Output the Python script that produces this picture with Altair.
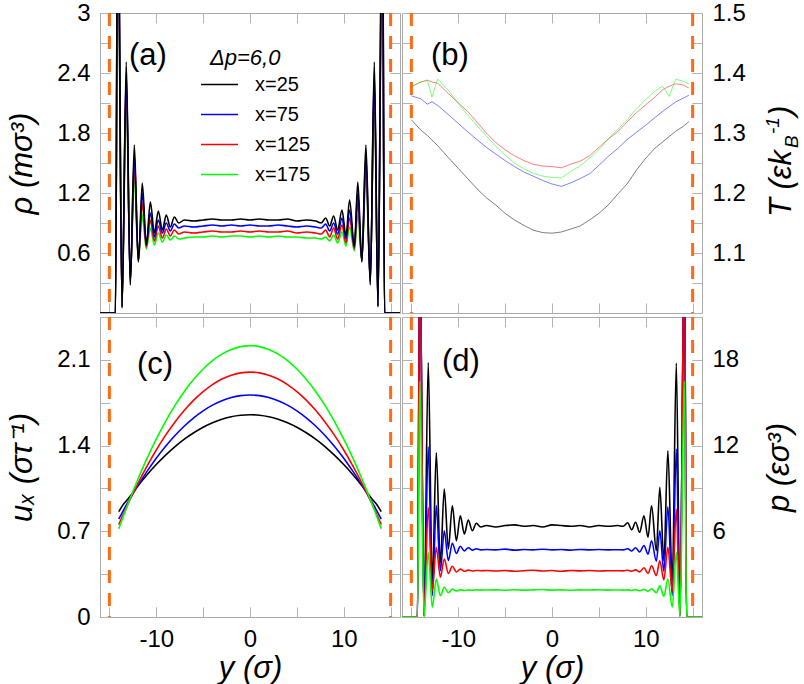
import altair as alt
import pandas as pd

FONT = "Liberation Sans"

SERIES = ["x=25", "x=75", "x=125", "x=175"]
COLORS = ["#000000", "#0000ff", "#ff0000", "#00ff00"]
WALLS = [-15.0, 15.0]

# channel coordinate y (sigma) where the layered density / pressure profiles are sampled
Y_LAYER = [-16.0, -14.35, -14.1, -13.65, -13.2, -12.77, -12.34, -11.91, -11.49, -11.06, -10.63, -10.2,
           -9.78, -9.35, -8.93, -8.5, -8.07, -7.6,
           -7.0, -6.0, -5.0, -4.0, -3.0, -2.0, -1.0, 0.0, 1.0, 2.0, 3.0, 4.0, 5.0, 6.0, 7.0,
           7.6, 8.07, 8.5, 8.92, 9.35, 9.81, 10.24, 10.62, 11.13, 11.5, 11.93, 12.36, 12.83, 13.26,
           13.65, 14.12, 14.35, 16.0]

# (a) density
RHO_25 = [0, 0, 4.6, 0.05, 2.51, 0.28, 1.68, 0.51, 1.30, 0.68, 1.11, 0.80, 1.02, 0.83, 0.98, 0.86, 0.96, 0.90,
          0.93, 0.92, 0.93, 0.94, 0.93, 0.93, 0.94, 0.93, 0.94, 0.93, 0.93, 0.94, 0.92, 0.93, 0.92,
          0.90, 0.95, 0.87, 0.97, 0.83, 1.03, 0.77, 1.13, 0.67, 1.31, 0.51, 1.68, 0.28, 2.51, 0.06, 4.6, 0, 0]
RHO_75 = [0, 0, 4.4, 0.06, 2.40, 0.30, 1.58, 0.52, 1.20, 0.68, 1.00, 0.76, 0.93, 0.80, 0.90, 0.82, 0.89, 0.85,
          0.87, 0.86, 0.87, 0.88, 0.87, 0.88, 0.87, 0.88, 0.87, 0.87, 0.88, 0.87, 0.86, 0.87, 0.86,
          0.85, 0.89, 0.82, 0.90, 0.79, 0.95, 0.74, 1.03, 0.66, 1.20, 0.52, 1.58, 0.30, 2.40, 0.07, 4.4, 0, 0]
RHO_125 = [0, 0, 4.2, 0.07, 2.30, 0.32, 1.47, 0.52, 1.10, 0.66, 0.93, 0.72, 0.87, 0.75, 0.84, 0.77, 0.83, 0.79,
           0.81, 0.80, 0.81, 0.82, 0.81, 0.81, 0.82, 0.81, 0.82, 0.81, 0.81, 0.82, 0.80, 0.81, 0.80,
           0.79, 0.83, 0.76, 0.85, 0.74, 0.88, 0.70, 0.95, 0.64, 1.10, 0.52, 1.47, 0.32, 2.30, 0.08, 4.2, 0, 0]
RHO_175 = [0, 0, 4.0, 0.08, 2.20, 0.34, 1.36, 0.52, 0.98, 0.64, 0.85, 0.68, 0.80, 0.71, 0.78, 0.73, 0.77, 0.74,
           0.75, 0.76, 0.76, 0.77, 0.76, 0.77, 0.77, 0.76, 0.77, 0.76, 0.77, 0.76, 0.76, 0.75, 0.75,
           0.74, 0.76, 0.72, 0.78, 0.70, 0.81, 0.67, 0.86, 0.62, 0.98, 0.52, 1.36, 0.34, 2.20, 0.09, 4.0, 0, 0]

# (d) pressure
P_25 = [0, 0, 26, 0.1, 17.8, 2.5, 11.5, 3.8, 8.96, 4.76, 7.79, 5.34, 7.09, 5.81, 6.79, 6.04, 6.56, 6.30,
        6.40, 6.30, 6.40, 6.45, 6.35, 6.40, 6.30, 6.45, 6.40, 6.35, 6.40, 6.30, 6.40, 6.35, 6.40,
        6.35, 6.60, 6.10, 6.63, 5.93, 7.09, 5.58, 7.79, 4.64, 9.08, 3.94, 11.64, 2.54, 17.76, 0.2, 26, 0, 0]
P_75 = [0, 0, 26, 0.1, 11.9, 1.5, 7.8, 3.24, 6.04, 3.94, 5.16, 4.45, 4.95, 4.62, 4.85, 4.68, 4.78, 4.70,
        4.72, 4.70, 4.75, 4.68, 4.72, 4.70, 4.74, 4.70, 4.72, 4.68, 4.73, 4.70, 4.72, 4.70, 4.71,
        4.70, 4.78, 4.62, 4.85, 4.55, 5.00, 4.40, 5.34, 3.90, 6.04, 3.20, 7.72, 1.50, 11.76, 0.1, 26, 0, 0]
P_125 = [0, 0, 26, 0.05, 7.68, 1.84, 4.88, 2.78, 4.06, 3.05, 3.55, 3.15, 3.35, 3.20, 3.28, 3.22, 3.26, 3.24,
         3.25, 3.22, 3.26, 3.20, 3.24, 3.27, 3.22, 3.25, 3.20, 3.26, 3.23, 3.25, 3.22, 3.24, 3.24,
         3.23, 3.27, 3.20, 3.30, 3.15, 3.45, 3.05, 3.59, 2.90, 3.94, 2.60, 4.88, 1.80, 7.56, 0.05, 26, 0, 0]
P_175 = [0, 0, 16.5, 0.0, 4.53, 0.68, 2.66, 1.49, 2.08, 1.70, 1.95, 1.82, 1.90, 1.86, 1.89, 1.87, 1.90, 1.88,
         1.89, 1.90, 1.87, 1.91, 1.88, 1.90, 1.92, 1.88, 1.90, 1.87, 1.90, 1.89, 1.91, 1.88, 1.89,
         1.88, 1.90, 1.86, 1.92, 1.84, 1.93, 1.80, 1.98, 1.70, 2.19, 1.45, 2.66, 0.68, 4.53, 0.0, 16.5, 0, 0]

# (c) streaming velocity
Y_VEL = [-14.0, -13.5, -13.0, -12.0, -11.0, -10.0, -9.0, -8.0, -7.0, -6.0, -5.0, -4.0, -3.0, -2.0, -1.0, 0.0,
         1.0, 2.0, 3.0, 4.0, 5.0, 6.0, 7.0, 8.0, 9.0, 10.0, 11.0, 12.0, 13.0, 13.5, 14.0]
U_25 = [0.86, 0.92, 0.965, 1.066, 1.16, 1.245, 1.322, 1.392, 1.453, 1.505, 1.55, 1.587, 1.615, 1.636, 1.648, 1.652,
        1.648, 1.636, 1.615, 1.587, 1.55, 1.505, 1.453, 1.392, 1.322, 1.245, 1.16, 1.066, 0.965, 0.92, 0.86]
U_75 = [0.80, 0.871, 0.939, 1.069, 1.187, 1.296, 1.394, 1.482, 1.56, 1.627, 1.684, 1.73, 1.766, 1.792, 1.808, 1.813,
        1.808, 1.792, 1.766, 1.73, 1.684, 1.627, 1.56, 1.482, 1.394, 1.296, 1.187, 1.069, 0.939, 0.871, 0.80]
U_125 = [0.754, 0.841, 0.925, 1.084, 1.23, 1.364, 1.485, 1.593, 1.688, 1.771, 1.841, 1.898, 1.943, 1.975, 1.994, 2.0,
         1.994, 1.975, 1.943, 1.898, 1.841, 1.771, 1.688, 1.593, 1.485, 1.364, 1.23, 1.084, 0.925, 0.841, 0.754]
U_175 = [0.72, 0.825, 0.927, 1.117, 1.293, 1.453, 1.598, 1.728, 1.842, 1.941, 2.025, 2.094, 2.147, 2.185, 2.208, 2.216,
         2.208, 2.185, 2.147, 2.094, 2.025, 1.941, 1.842, 1.728, 1.598, 1.453, 1.293, 1.117, 0.927, 0.825, 0.72]

# (b) temperature
Y_TEMP = [-15.0, -14.0, -13.3, -12.8, -12.2, -11.0, -10.0, -9.0, -8.0, -7.0, -6.0, -5.0, -4.0, -3.0, -2.0, -1.0,
          0.0, 1.0, 2.0, 3.0, 4.0, 5.0, 6.0, 7.0, 8.0, 9.0, 10.0, 11.0, 11.8, 12.5, 13.2, 14.0, 14.6]
T_25 = [1.322, 1.305, 1.296, 1.288, 1.279, 1.258, 1.241, 1.224, 1.207, 1.192, 1.180, 1.166, 1.155, 1.146, 1.138,
        1.134, 1.133, 1.135, 1.140, 1.145, 1.155, 1.166, 1.180, 1.198, 1.215, 1.238, 1.258, 1.275, 1.285, 1.294,
        1.303, 1.311, 1.319]
T_75 = [1.362, 1.357, 1.348, 1.352, 1.346, 1.330, 1.316, 1.302, 1.289, 1.276, 1.265, 1.254, 1.244, 1.235, 1.228,
        1.221, 1.215, 1.211, 1.217, 1.224, 1.232, 1.246, 1.261, 1.274, 1.289, 1.301, 1.313, 1.326, 1.336, 1.344,
        1.352, 1.358, 1.363]
T_125 = [1.377, 1.385, 1.388, 1.385, 1.383, 1.365, 1.350, 1.336, 1.318, 1.300, 1.284, 1.272, 1.262, 1.254, 1.248,
         1.245, 1.244, 1.242, 1.248, 1.253, 1.262, 1.276, 1.290, 1.302, 1.318, 1.334, 1.347, 1.360, 1.372, 1.378,
         1.382, 1.380, 1.375]
T_175 = [1.377, 1.385, 1.388, 1.360, 1.390, 1.370, 1.350, 1.330, 1.312, 1.295, 1.278, 1.263, 1.250, 1.240, 1.233,
         1.228, 1.226, 1.225, 1.236, 1.245, 1.258, 1.272, 1.290, 1.306, 1.322, 1.340, 1.356, 1.370, 1.378, 1.361,
         1.390, 1.386, 1.382]

X_TICKS = [-15, -10, -5, 0, 5, 10, 15]
X_LABELS = [-10, 0, 10]
RHO_TICKS = [0, 0.3, 0.6, 0.9, 1.2, 1.5, 1.8, 2.1, 2.4, 2.7, 3.0]
RHO_LABELS = [0.6, 1.2, 1.8, 2.4, 3.0]
T_TICKS = [1.0, 1.05, 1.1, 1.15, 1.2, 1.25, 1.3, 1.35, 1.4, 1.45, 1.5]
T_LABELS = [1.1, 1.2, 1.3, 1.4, 1.5]
U_TICKS = [0, 0.35, 0.7, 1.05, 1.4, 1.75, 2.1, 2.45]
U_LABELS = [0, 0.7, 1.4, 2.1]
P_TICKS = [0, 3, 6, 9, 12, 15, 18, 21]
P_LABELS = [6, 12, 18]

W = H = 300
TICK = 10
TICK_COLOR = "#b4b4b4"
LABEL_SIZE = 24
TITLE_SIZE = 31
ORANGE = "#ff6a13"


def frame(ys, cols):
    rows = []
    for name, vals in zip(SERIES, cols):
        for y, v in zip(ys, vals):
            rows.append({"y": y, "v": v, "s": name})
    return pd.DataFrame(rows)


def tick_axis(orient, values):
    return alt.Axis(orient=orient, values=values, labels=False, title=None, domain=False,
                    grid=False, tickSize=TICK, offset=-TICK, tickColor=TICK_COLOR, tickWidth=1)


def label_axis(orient, values, title=None, title_pad=10, extent=None):
    kw = dict(orient=orient, values=values, labelExpr="toString(datum.value)", domain=False,
              grid=False, tickSize=TICK, offset=-TICK, tickColor=TICK_COLOR, tickWidth=1,
              labelFont=FONT, labelFontSize=LABEL_SIZE, labelColor="#000000", labelPadding=10,
              labelOverlap=False, labelFlush=False)
    if title is not None:
        kw.update(title=title, titleFont=FONT, titleFontSize=TITLE_SIZE, titleFontStyle="italic",
                  titleFontWeight="normal", titleColor="#000000", titlePadding=title_pad)
        if orient in ("left", "right"):
            kw.update(titleAngle=270)
            if orient == "right":
                kw.update(titleBaseline="top")
    else:
        kw.update(title=None)
    if extent is not None:
        kw.update(minExtent=extent, maxExtent=extent)
    return alt.Axis(**kw)


def panel(df, ydom, yticks, ylabels, yside, show_x, ytitle, tag, tag_xy, width=1.6,
          opacity=1.0, interp="monotone", legend=None, draw_order=SERIES, extra=None):
    xs = alt.Scale(domain=[-16, 16], nice=False, zero=False)
    ys = alt.Scale(domain=ydom, nice=False, zero=False)
    cs = alt.Scale(domain=SERIES, range=COLORS)
    other = "right" if yside == "left" else "left"
    if show_x:
        x_axis = label_axis("bottom", X_LABELS, title="y (σ)", title_pad=2)
    else:
        x_axis = None
    y_axis = label_axis(yside, ylabels, title=ytitle, title_pad=14, extent=58)

    walls = alt.Chart(pd.DataFrame({"w": WALLS})).mark_rule(
        color=ORANGE, strokeWidth=3, strokeDash=[13, 10]
    ).encode(x=alt.X("w:Q", scale=xs, axis=None))

    # invisible copies of the profiles carrying the tick-only axes on all four sides
    ghost_far = alt.Chart(df).mark_line(opacity=0, clip=True).encode(
        x=alt.X("y:Q", scale=xs, axis=tick_axis("top", X_TICKS)),
        y=alt.Y("v:Q", scale=ys, axis=tick_axis(other, yticks)),
        detail="s:N",
    )
    ghost_near = alt.Chart(df).mark_line(opacity=0, clip=True).encode(
        x=alt.X("y:Q", scale=xs, axis=tick_axis("bottom", X_TICKS)),
        y=alt.Y("v:Q", scale=ys, axis=tick_axis(yside, yticks)),
        detail="s:N",
    )

    layers = [walls, ghost_far, ghost_near]
    for i, name in enumerate(draw_order):
        first = i == 0
        layers.append(
            alt.Chart(df[df["s"] == name]).mark_line(
                interpolate=interp, clip=True, strokeWidth=width, opacity=opacity
            ).encode(
                x=alt.X("y:Q", scale=xs, axis=x_axis if first else None),
                y=alt.Y("v:Q", scale=ys, axis=y_axis if first else None),
                color=alt.Color("s:N", scale=cs, legend=legend if first else None),
                order=alt.Order("y:Q"),
            )
        )

    tag_layer = alt.Chart(pd.DataFrame({"t": [tag]})).mark_text(
        font=FONT, fontSize=31, align="left", baseline="middle", color="#000000"
    ).encode(x=alt.value(tag_xy[0]), y=alt.value(tag_xy[1]), text="t:N")
    layers.append(tag_layer)
    if extra:
        layers += extra
    return alt.layer(*layers).resolve_scale(x="independent", y="independent").properties(
        width=W, height=H)


def text_piece(txt, x, y, size, italic=True, angle=0):
    kw = dict(font=FONT, fontSize=size, align="left", baseline="middle", color="#000000")
    if italic:
        kw["fontStyle"] = "italic"
    if angle:
        kw["angle"] = angle
    return alt.Chart(pd.DataFrame({"t": [txt]})).mark_text(**kw).encode(
        x=alt.value(x), y=alt.value(y), text="t:N")


legend = alt.Legend(orient="none", legendX=100, legendY=52, title=None, symbolType="stroke",
                    symbolSize=1369, symbolStrokeWidth=1.5, labelFont=FONT, labelFontSize=20,
                    labelColor="#000000", rowPadding=-10, labelOffset=16, padding=0,
                    values=SERIES)

legend_title = text_piece("Δp=6,0", 110, 45, 22)

panel_a = panel(frame(Y_LAYER, [RHO_25, RHO_75, RHO_125, RHO_175]), [0, 3], RHO_TICKS, RHO_LABELS,
                "left", False, "ρ (mσ³)", "(a)", (29, 43), legend=legend,
                draw_order=SERIES[::-1], extra=[legend_title])

temp_title = [
    text_piece("T (εk", 380, 204, 31, angle=270),
    text_piece("B", 390, 135, 19, angle=270),
    text_piece("-1", 371, 121, 19, angle=270),
    text_piece(")", 380, 103, 31, angle=270),
]
panel_b = panel(frame(Y_TEMP, [T_25, T_75, T_125, T_175]), [1.0, 1.5], T_TICKS, T_LABELS,
                "right", False, None, "(b)", (29, 43), width=1.0, opacity=0.5, interp="linear",
                extra=temp_title)

panel_c = panel(frame(Y_VEL, [U_25, U_75, U_125, U_175]), [0, 2.45], U_TICKS, U_LABELS,
                "left", True, "uₓ (στ⁻¹)", "(c)", (37, 48), interp="natural")

panel_d = panel(frame(Y_LAYER, [P_25, P_75, P_125, P_175]), [0, 21], P_TICKS, P_LABELS,
                "right", True, "p (εσ³)", "(d)", (40, 45))

chart = alt.concat(panel_a, panel_b, panel_c, panel_d, columns=2, spacing=0, align="each").resolve_scale(
    color="independent"
).configure_view(stroke="#a9a9a9", strokeWidth=1).properties(
    padding={"left": 5, "top": 0, "right": 0, "bottom": 0}, background="white")

chart.save("out.html", embed_options={"renderer": "svg", "actions": False})
